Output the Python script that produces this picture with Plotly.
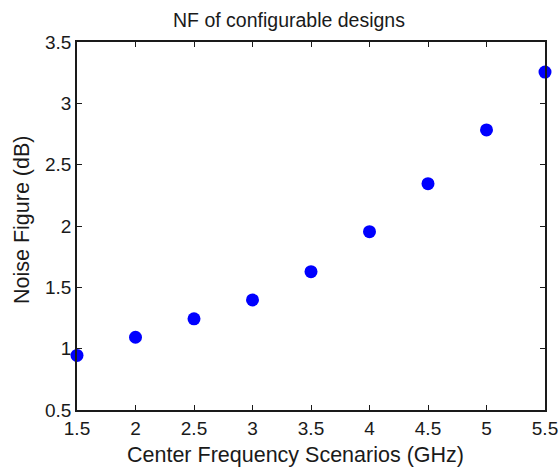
import plotly.graph_objects as go

freq_ghz = [1.5, 2.0, 2.5, 3.0, 3.5, 4.0, 4.5, 5.0, 5.5]
noise_figure_db = [0.945, 1.093, 1.243, 1.397, 1.628, 1.954, 2.345, 2.783, 3.255]
x_ticks = [1.5, 2, 2.5, 3, 3.5, 4, 4.5, 5, 5.5]
y_ticks = [0.5, 1, 1.5, 2, 2.5, 3, 3.5]

title_text = "NF of configurable designs"
x_title = "Center Frequency Scenarios (GHz)"
y_title = "Noise Figure (dB)"

font_family = "Liberation Sans, Arial, Helvetica, sans-serif"
ink = "#1a1a1a"

W, H = 559, 472
L, R, T, B = 77, 14, 42, 62

fig = go.Figure(
    go.Scatter(
        x=freq_ghz,
        y=noise_figure_db,
        mode="markers",
        marker=dict(color="#0000ff", size=13, line=dict(width=0)),
        cliponaxis=False,
    )
)

axis_common = dict(
    showgrid=False,
    zeroline=False,
    showline=True,
    linecolor=ink,
    linewidth=1.5,
    mirror="ticks",
    ticks="inside",
    ticklen=5,
    tickwidth=1.2,
    tickcolor=ink,
    automargin=False,
    tickfont=dict(family=font_family, size=19, color=ink),
)

fig.update_layout(
    width=W,
    height=H,
    margin=dict(l=L, r=R, t=T, b=B, autoexpand=False),
    paper_bgcolor="white",
    plot_bgcolor="white",
    showlegend=False,
    xaxis=dict(range=[1.5, 5.5], tickvals=x_ticks,
               ticktext=[f"{v:g}" for v in x_ticks], **axis_common),
    yaxis=dict(range=[0.5, 3.5], tickvals=y_ticks,
               ticktext=[f"{v:g}" for v in y_ticks], **axis_common),
    annotations=[
        dict(text=title_text, xref="paper", yref="paper",
             x=(289 - L) / (W - L - R), y=(H - B - 20) / (H - T - B) - (H - B) / (H - T - B) + 1 + 0,
             showarrow=False, xanchor="center", yanchor="middle",
             font=dict(family=font_family, size=19.5, color=ink)),
        dict(text=x_title, xref="paper", yref="paper",
             x=(295 - L) / (W - L - R), y=-(455 - (H - B)) / (H - T - B),
             showarrow=False, xanchor="center", yanchor="middle",
             font=dict(family=font_family, size=21.5, color=ink)),
        dict(text=y_title, xref="paper", yref="paper",
             x=-(L - 22) / (W - L - R), y=((H - B) - 220) / (H - T - B),
             textangle=-90, showarrow=False, xanchor="center", yanchor="middle",
             font=dict(family=font_family, size=21.5, color=ink)),
    ],
)

# fix title annotation y: center at pixel y=20 from top
fig.layout.annotations[0].y = ((H - B) - 20) / (H - T - B)

fig.write_html("out.html")
